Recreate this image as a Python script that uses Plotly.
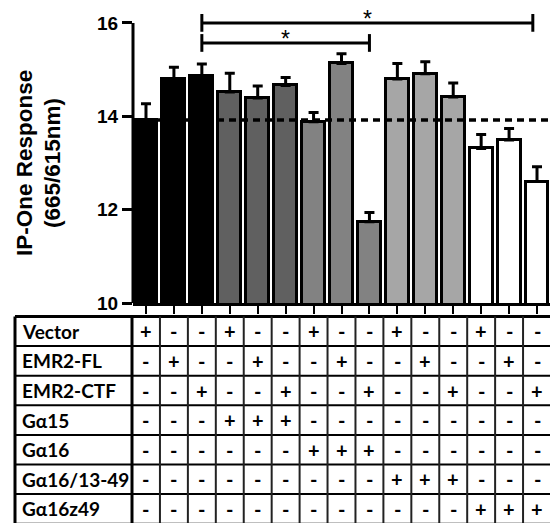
import plotly.graph_objects as go

# ---------------- data ----------------
bar_index = list(range(15))
values = [13.92, 14.80, 14.86, 14.52, 14.39, 14.66, 13.88, 15.13, 11.74,
          14.80, 14.91, 14.41, 13.31, 13.49, 12.60]
errors = [0.35, 0.25, 0.26, 0.40, 0.26, 0.17, 0.20, 0.21, 0.20,
          0.33, 0.26, 0.30, 0.30, 0.25, 0.32]
group_colors = ["#000000", "#606060", "#828282", "#a6a6a6", "#ffffff"]
bar_colors = [c for c in group_colors for _ in range(3)]
baseline = 13.92
row_labels = ["Vector", "EMR2-FL", "EMR2-CTF", "Gα15", "Gα16", "Gα16/13-49", "Gα16z49"]
table_marks = [
    "+--+--+--+--+--",
    "-+--+--+--+--+-",
    "--+--+--+--+--+",
    "---+++---------",
    "------+++------",
    "---------+++---",
    "------------+++",
]
# significance brackets: (start bar, end bar, height, label)
brackets = [(2, 13.85, 16.0, "*"), (2, 8, 15.57, "*")]
y_ticks = [10, 12, 14, 16]
y_title = ["IP-One Response", "(665/615nm)"]

# ---------------- layout geometry ----------------
W, H = 550, 523
def px(x):  # pixel x -> paper
    return x / W
def py(y):  # pixel y from top -> paper
    return (H - y) / H

x_left_px = 133
axis_bottom_px = 303
x_range = [-0.465, 14.465]
y_range = [10, 16.49]

fig = go.Figure()
fig.add_trace(go.Bar(
    x=bar_index, y=values, width=0.82,
    marker=dict(color=bar_colors, line=dict(color="black", width=3)),
    error_y=dict(type="data", array=errors, arrayminus=[0] * len(errors),
                 symmetric=False, thickness=3, width=5, color="black"),
    showlegend=False, hoverinfo="skip",
))
fig.add_trace(go.Scatter(
    x=x_range, y=[baseline, baseline], mode="lines",
    line=dict(color="black", width=3.5, dash="7px,5px"),
    showlegend=False, hoverinfo="skip",
))

shapes = []
annotations = []

# y axis line (only 10..16)
shapes.append(dict(type="line", xref="paper", yref="y", x0=px(x_left_px), x1=px(x_left_px),
                   y0=y_ticks[0], y1=y_ticks[-1], line=dict(color="black", width=3)))

# brackets
for (a, b, h, lab) in brackets:
    shapes.append(dict(type="line", xref="x", yref="y", x0=a, x1=b, y0=h, y1=h,
                       line=dict(color="black", width=3)))
    for xe in (a, b):
        shapes.append(dict(type="line", xref="x", yref="y", x0=xe, x1=xe, y0=h - 0.19, y1=h + 0.19,
                           line=dict(color="black", width=3)))
    annotations.append(dict(x=(a + b) / 2, y=h, xref="x", yref="y", text=lab, showarrow=False,
                            yanchor="middle", yshift=4,
                            font=dict(family="Liberation Sans", size=23, color="black")))

# y title
for i, t in enumerate(y_title):
    annotations.append(dict(x=px(24 + 28 * i), y=py(163), xref="paper", yref="paper", text=t,
                            textangle=-90, showarrow=False, xanchor="center", yanchor="middle",
                            font=dict(family="Liberation Sans", size=22.5, color="black", weight="bold")))

# table
tbl_top = 316.5
row_h = 29.6
tbl_left = 15
lab_right = 132
n_rows = len(row_labels)
for r in range(n_rows + 1):
    yy = tbl_top + r * row_h
    shapes.append(dict(type="line", xref="paper", yref="paper", x0=px(tbl_left), x1=1,
                       y0=py(yy), y1=py(yy), line=dict(color="black", width=3 if r == 0 else 2)))
shapes.append(dict(type="line", xref="paper", yref="paper", x0=px(tbl_left), x1=px(tbl_left),
                   y0=py(tbl_top), y1=py(tbl_top + n_rows * row_h), line=dict(color="black", width=3)))
shapes.append(dict(type="line", xref="paper", yref="paper", x0=px(lab_right), x1=px(lab_right),
                   y0=py(tbl_top), y1=py(tbl_top + n_rows * row_h), line=dict(color="black", width=3)))
for c in bar_index[:-1]:
    shapes.append(dict(type="line", xref="x", yref="paper", x0=c + 0.5, x1=c + 0.5,
                       y0=py(tbl_top), y1=py(tbl_top + n_rows * row_h), line=dict(color="#222222", width=2)))

for r, lab in enumerate(row_labels):
    yc = py(tbl_top + (r + 0.5) * row_h)
    annotations.append(dict(x=px(20), y=yc, xref="paper", yref="paper", text=lab, showarrow=False,
                            xanchor="left", yanchor="middle",
                            font=dict(family="Lato", size=19, color="black", weight="bold")))
    for c, m in enumerate(table_marks[r]):
        annotations.append(dict(x=c, y=yc, xref="x", yref="paper", text=m, showarrow=False,
                                xanchor="center", yanchor="middle",
                                font=dict(family="Lato", size=20, color="black", weight="bold")))

fig.update_layout(
    template="none",
    width=W, height=H, autosize=False,
    margin=dict(l=0, r=0, t=0, b=0, pad=0, autoexpand=False),
    paper_bgcolor="white", plot_bgcolor="white",
    bargap=0,
    xaxis=dict(domain=[px(x_left_px), 1], range=x_range, showline=True, linecolor="black", linewidth=3,
               ticks="outside", ticklen=8, tickwidth=2, tickcolor="black", tickvals=bar_index,
               showticklabels=False, showgrid=False, zeroline=False, fixedrange=True, automargin=False),
    yaxis=dict(domain=[py(axis_bottom_px), 1], range=y_range, showline=False,
               ticks="outside", ticklen=10, tickwidth=3, tickcolor="black", tickvals=y_ticks,
               tickfont=dict(family="Liberation Sans", size=19, color="black", weight="bold"),
               showgrid=False, zeroline=False, fixedrange=True, automargin=False),
    shapes=shapes, annotations=annotations,
)

fig.write_html("out.html", config={"displayModeBar": False},
               post_script="document.body.style.margin='0px';document.body.style.overflow='hidden';")
